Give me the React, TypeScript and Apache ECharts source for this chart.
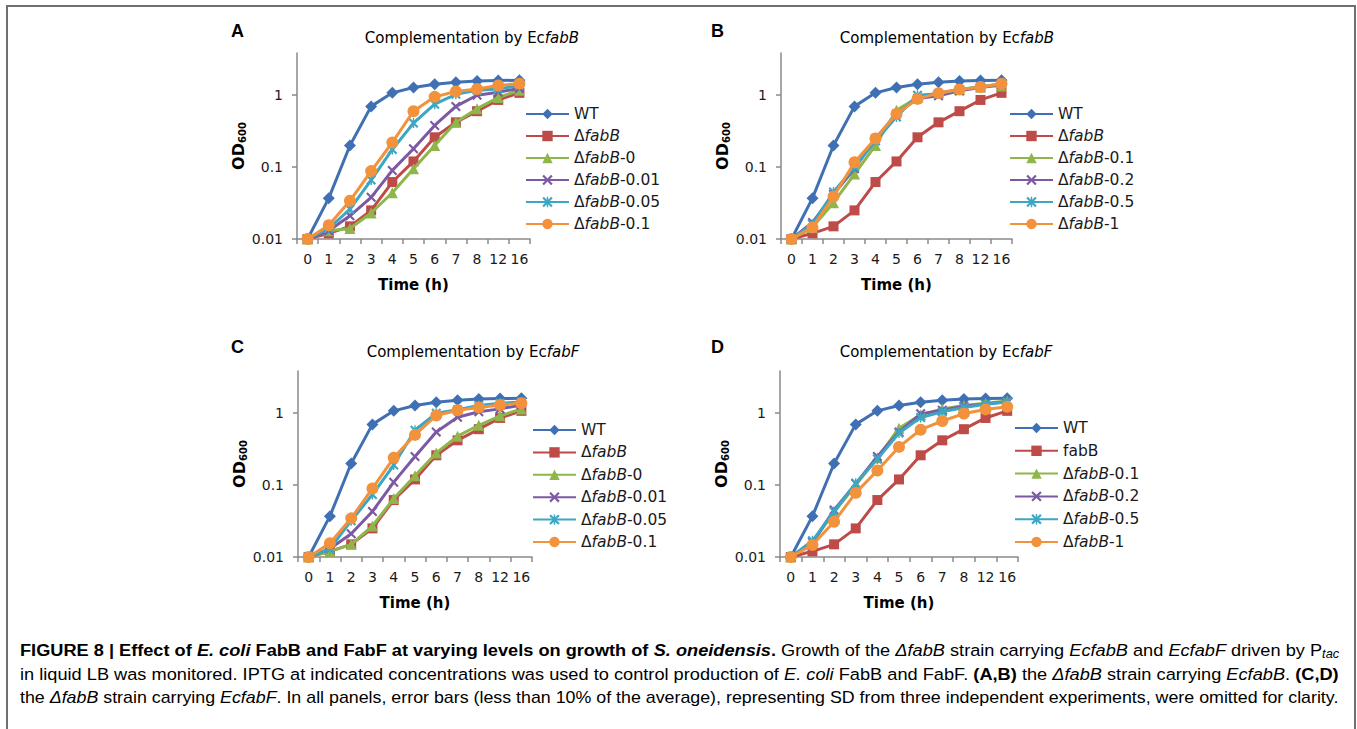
import React, { useEffect, useRef } from "react";
import * as echarts from "echarts";

// ---------------- data ----------------
const times = ["0", "1", "2", "3", "4", "5", "6", "7", "8", "12", "16"];

const wt = [0.01, 0.037, 0.2, 0.7, 1.08, 1.28, 1.42, 1.52, 1.58, 1.6, 1.62];
const fabB = [0.01, 0.012, 0.015, 0.025, 0.062, 0.12, 0.26, 0.42, 0.6, 0.86, 1.08];

// Panel A (EcfabB, IPTG 0 – 0.1)
const aFabB0 = [0.01, 0.013, 0.014, 0.023, 0.044, 0.095, 0.2, 0.42, 0.65, 0.93, 1.17];
const aFabB001 = [0.01, 0.013, 0.021, 0.038, 0.09, 0.18, 0.38, 0.7, 1.0, 1.1, 1.25];
const aFabB005 = [0.01, 0.014, 0.026, 0.066, 0.176, 0.41, 0.75, 1.03, 1.17, 1.22, 1.37];
const aFabB01 = [0.01, 0.0155, 0.034, 0.088, 0.22, 0.6, 0.95, 1.13, 1.22, 1.37, 1.45];

// Panel B (EcfabB, IPTG 0.1 – 1)
const bFabB01 = [0.01, 0.0145, 0.032, 0.08, 0.2, 0.62, 0.93, 1.08, 1.2, 1.3, 1.35];
const bFabB02 = [0.01, 0.017, 0.042, 0.095, 0.25, 0.55, 0.9, 0.98, 1.15, 1.28, 1.42];
const bFabB05 = [0.01, 0.016, 0.045, 0.1, 0.23, 0.5, 1.0, 1.05, 1.2, 1.3, 1.45];
const bFabB1 = [0.01, 0.0145, 0.039, 0.117, 0.25, 0.55, 0.89, 1.07, 1.2, 1.3, 1.45];

// Panel C (EcfabF, IPTG 0 – 0.1)
const cFabB0 = [0.01, 0.012, 0.015, 0.027, 0.065, 0.135, 0.28, 0.48, 0.68, 0.92, 1.15];
const cFabB001 = [0.01, 0.013, 0.021, 0.043, 0.11, 0.25, 0.55, 0.88, 1.05, 1.15, 1.3];
const cFabB005 = [0.01, 0.013, 0.032, 0.074, 0.19, 0.58, 1.0, 1.12, 1.28, 1.38, 1.43];
const cFabB01 = [0.01, 0.0155, 0.0345, 0.09, 0.24, 0.5, 0.93, 1.1, 1.2, 1.3, 1.38];

// Panel D (EcfabF, IPTG 0.1 – 1)
const dFabB01 = [0.01, 0.016, 0.042, 0.1, 0.24, 0.62, 0.95, 1.15, 1.28, 1.38, 1.48];
const dFabB02 = [0.01, 0.016, 0.045, 0.105, 0.25, 0.55, 0.98, 1.1, 1.25, 1.35, 1.45];
const dFabB05 = [0.01, 0.0168, 0.043, 0.106, 0.23, 0.53, 0.87, 1.05, 1.2, 1.33, 1.43];
const dFabB1 = [0.01, 0.0147, 0.031, 0.078, 0.16, 0.34, 0.59, 0.78, 0.99, 1.13, 1.23];

const yTicks = [0.01, 0.1, 1];
const Y_MAX = 3.87;

const panelLetters = ["A", "B", "C", "D"];
const panelGenes = ["fabB", "fabB", "fabF", "fabF"];
const legendA = ["WT", "ΔfabB", "ΔfabB-0", "ΔfabB-0.01", "ΔfabB-0.05", "ΔfabB-0.1"];
const legendB = ["WT", "ΔfabB", "ΔfabB-0.1", "ΔfabB-0.2", "ΔfabB-0.5", "ΔfabB-1"];
const legendC = ["WT", "ΔfabB", "ΔfabB-0", "ΔfabB-0.01", "ΔfabB-0.05", "ΔfabB-0.1"];
const legendD = ["WT", "fabB", "ΔfabB-0.1", "ΔfabB-0.2", "ΔfabB-0.5", "ΔfabB-1"];

// caption: [style, text] runs per line
const captionLines: [string, string][][] = [
  [
    ["b", "FIGURE 8 | Effect of "],
    ["bi", "E. coli"],
    ["b", " FabB and FabF at varying levels on growth of "],
    ["bi", "S. oneidensis"],
    ["b", "."],
    ["r", " Growth of the "],
    ["i", "ΔfabB"],
    ["r", " strain carrying "],
    ["i", "EcfabB"],
    ["r", " and "],
    ["i", "EcfabF"],
    ["r", " driven by P"],
    ["sub", "tac"],
  ],
  [
    ["r", "in liquid LB was monitored. IPTG at indicated concentrations was used to control production of "],
    ["i", "E. coli"],
    ["r", " FabB and FabF. "],
    ["b", "(A,B)"],
    ["r", " the "],
    ["i", "ΔfabB"],
    ["r", " strain carrying "],
    ["i", "EcfabB"],
    ["r", ". "],
    ["b", "(C,D)"],
  ],
  [
    ["r", "the "],
    ["i", "ΔfabB"],
    ["r", " strain carrying "],
    ["i", "EcfabF"],
    ["r", ". In all panels, error bars (less than 10% of the average), representing SD from three independent experiments, were omitted for clarity."],
  ],
];

// ---------------- styling ----------------
const FONT = "'DejaVu Sans', Verdana, sans-serif";
const ARIAL = "'Liberation Sans', Arial, sans-serif";
const CAP = "'Liberation Sans', Arial, sans-serif";
const AXIS_GRAY = "#8a8a8a";
const TXT = "#1a1a1a";

const X_PATH =
  "path://M0,1.5 L1.5,0 L5,3.5 L8.5,0 L10,1.5 L6.5,5 L10,8.5 L8.5,10 L5,6.5 L1.5,10 L0,8.5 L3.5,5 Z";
const STAR_PATH =
  "path://M0,1.5 L1.5,0 L5,3.5 L8.5,0 L10,1.5 L6.5,5 L10,8.5 L8.5,10 L5,6.5 L1.5,10 L0,8.5 L3.5,5 Z M4.3,0 L5.7,0 L5.7,10 L4.3,10 Z";

const STY = [
  { color: "#4070B4", symbol: "diamond", size: 12 },
  { color: "#BE4B48", symbol: "rect", size: 10 },
  { color: "#8FB64A", symbol: "triangle", size: 11 },
  { color: "#7B5AA3", symbol: X_PATH, size: 10 },
  { color: "#3DA6C3", symbol: STAR_PATH, size: 10 },
  { color: "#F2923D", symbol: "circle", size: 12 },
];

const panelData = [
  [wt, fabB, aFabB0, aFabB001, aFabB005, aFabB01],
  [wt, fabB, bFabB01, bFabB02, bFabB05, bFabB1],
  [wt, fabB, cFabB0, cFabB001, cFabB005, cFabB01],
  [wt, fabB, dFabB01, dFabB02, dFabB05, dFabB1],
];
const panelLegends = [legendA, legendB, legendC, legendD];

// layout (pixels)
const grids = [
  { left: 297, top: 53, width: 233, height: 186 },
  { left: 781, top: 53, width: 231, height: 186 },
  { left: 298, top: 371, width: 234, height: 186 },
  { left: 780, top: 371, width: 238, height: 186 },
];
const legendPos = [
  { left: 525, top: 106, gap: 6 },
  { left: 1009, top: 106, gap: 6 },
  { left: 532, top: 422, gap: 6.4 },
  { left: 1014, top: 420, gap: 6.8 },
];
const titlePos = [
  { x: 472, y: 38 },
  { x: 947, y: 38 },
  { x: 473, y: 352 },
  { x: 946, y: 352 },
];
const letterPos = [
  { x: 231, y: 31 },
  { x: 711, y: 31 },
  { x: 231, y: 347 },
  { x: 711, y: 347 },
];
const capY = [650, 674, 697];
const CAP_LEFT = 20;
const CAP_RIGHT = 1339;
const CAP_SIZE = 17;

function legendLabel(name: string) {
  const label = name.split(":")[1];
  if (label.startsWith("Δ")) {
    return "Δ{i|fabB}" + label.slice(5);
  }
  return label;
}

const capStyleDef: Record<string, { bold: boolean; italic: boolean; size: number }> = {
  r: { bold: false, italic: false, size: CAP_SIZE },
  b: { bold: true, italic: false, size: CAP_SIZE },
  bi: { bold: true, italic: true, size: CAP_SIZE },
  i: { bold: false, italic: true, size: CAP_SIZE },
  sub: { bold: false, italic: true, size: 12 },
};

function measureRuns(runs: [string, string][]) {
  const cv = document.createElement("canvas");
  const ctx = cv.getContext("2d");
  if (!ctx) return 0;
  let w = 0;
  runs.forEach(([k, t]) => {
    const d = capStyleDef[k];
    ctx.font = `${d.italic ? "italic " : ""}${d.bold ? "bold " : ""}${d.size}px ${CAP}`;
    w += ctx.measureText(t).width;
  });
  return w;
}

function buildOption() {
  const series: any[] = [];
  const legends: any[] = [];
  const xAxes: any[] = [];
  const yAxes: any[] = [];
  const graphics: any[] = [];

  grids.forEach((g, p) => {
    xAxes.push({
      type: "category",
      gridIndex: p,
      data: times,
      boundaryGap: true,
      axisLine: { show: true, lineStyle: { color: AXIS_GRAY, width: 1.5 } },
      axisTick: { show: true, length: 5, inside: false, lineStyle: { color: AXIS_GRAY, width: 1.5 } },
      axisLabel: { interval: 0, margin: 13, fontSize: 14, color: TXT, fontFamily: FONT },
      splitLine: { show: false },
      name: "Time (h)",
      nameLocation: "middle",
      nameGap: 38,
      nameTextStyle: { fontFamily: FONT, fontWeight: "bold", fontSize: 15, color: "#000" },
    });
    yAxes.push({
      type: "log",
      logBase: 10,
      gridIndex: p,
      min: 0.01,
      max: Y_MAX,
      axisLine: { show: true, lineStyle: { color: AXIS_GRAY, width: 1.5 } },
      axisTick: { show: true, length: 5, lineStyle: { color: AXIS_GRAY, width: 1.5 }, customValues: yTicks },
      axisLabel: {
        margin: 14,
        fontSize: 14,
        color: TXT,
        fontFamily: FONT,
        customValues: yTicks,
        formatter: (v: number) => String(+Number(v).toPrecision(3)),
      },
      splitLine: { show: false },
      name: "{a|OD}{s|600}",
      nameLocation: "middle",
      nameRotate: 90,
      nameGap: 42,
      nameTextStyle: {
        rich: {
          a: { fontFamily: FONT, fontWeight: "bold", fontSize: 16, lineHeight: 19, color: "#000" },
          s: { fontFamily: FONT, fontWeight: "bold", fontSize: 10, lineHeight: 10, verticalAlign: "bottom", color: "#000" },
        },
      },
    });

    const names: string[] = [];
    panelData[p].forEach((arr, k) => {
      const st = STY[k];
      const name = panelLetters[p] + ":" + panelLegends[p][k];
      names.push(name);
      series.push({
        type: "line",
        name,
        xAxisIndex: p,
        yAxisIndex: p,
        data: arr,
        symbol: st.symbol,
        symbolSize: st.size,
        showSymbol: true,
        lineStyle: { width: 3, color: st.color },
        itemStyle: { color: st.color, borderWidth: 0 },
        z: 2 + k,
      });
    });

    const lp = legendPos[p];
    legends.push({
      orient: "vertical",
      left: lp.left,
      top: lp.top,
      padding: 0,
      itemWidth: 43,
      itemHeight: 13,
      itemGap: lp.gap,
      selectedMode: false,
      data: names,
      formatter: legendLabel,
      textStyle: {
        fontFamily: FONT,
        fontSize: 15.5,
        lineHeight: 16,
        color: TXT,
        rich: { i: { fontFamily: FONT, fontSize: 15.5, lineHeight: 16, fontStyle: "italic", color: TXT } },
      },
    });

    const tp = titlePos[p];
    graphics.push({
      type: "text",
      x: tp.x,
      y: tp.y,
      style: {
        text: "{n|Complementation by Ec}{i|" + panelGenes[p] + "}",
        align: "center",
        verticalAlign: "middle",
        rich: {
          n: { fontFamily: FONT, fontSize: 15, color: TXT },
          i: { fontFamily: FONT, fontSize: 15, fontStyle: "italic", color: TXT },
        },
      },
    });
    const lt = letterPos[p];
    graphics.push({
      type: "text",
      x: lt.x,
      y: lt.y,
      style: {
        text: panelLetters[p],
        fontFamily: ARIAL,
        fontWeight: "bold",
        fontSize: 18,
        fill: "#000",
        verticalAlign: "middle",
      },
    });
  });

  // caption (justified by horizontal scaling)
  const capColor = "#231f20";
  const capRich: any = {};
  Object.keys(capStyleDef).forEach((k) => {
    const d = capStyleDef[k];
    capRich[k] = {
      fontFamily: CAP,
      fontSize: d.size,
      fontWeight: d.bold ? "bold" : "normal",
      fontStyle: d.italic ? "italic" : "normal",
      lineHeight: k === "sub" ? 12 : 21,
      verticalAlign: k === "sub" ? "bottom" : "middle",
      color: capColor,
    };
  });
  captionLines.forEach((runs, i) => {
    const text = runs.map(([k, t]) => `{${k}|${t}}`).join("");
    const w = measureRuns(runs);
    const sx = w > 0 ? (CAP_RIGHT - CAP_LEFT) / w : 1;
    graphics.push({
      type: "text",
      x: CAP_LEFT,
      y: capY[i],
      scaleX: sx,
      style: { text, rich: capRich, verticalAlign: "middle", align: "left" },
    });
  });

  // frame
  graphics.push({
    type: "rect",
    shape: { x: 7, y: 6, width: 1348, height: 740 },
    style: { fill: "none", stroke: "#707070", lineWidth: 2 },
    silent: true,
  });

  return {
    animation: false,
    backgroundColor: "#fff",
    grid: grids.map((g) => ({ ...g, containLabel: false, outerBoundsMode: "none" })),
    xAxis: xAxes,
    yAxis: yAxes,
    legend: legends,
    series,
    graphic: graphics,
  };
}

export default function App() {
  const ref = useRef<HTMLDivElement>(null);
  useEffect(() => {
    if (!ref.current) return;
    const chart = echarts.init(ref.current, undefined, { renderer: "svg" });
    chart.setOption(buildOption() as any);
    return () => chart.dispose();
  }, []);
  return (
    <div
      ref={ref}
      style={{ position: "fixed", left: 0, top: 0, width: 1357, height: 729, background: "#fff" }}
    />
  );
}
